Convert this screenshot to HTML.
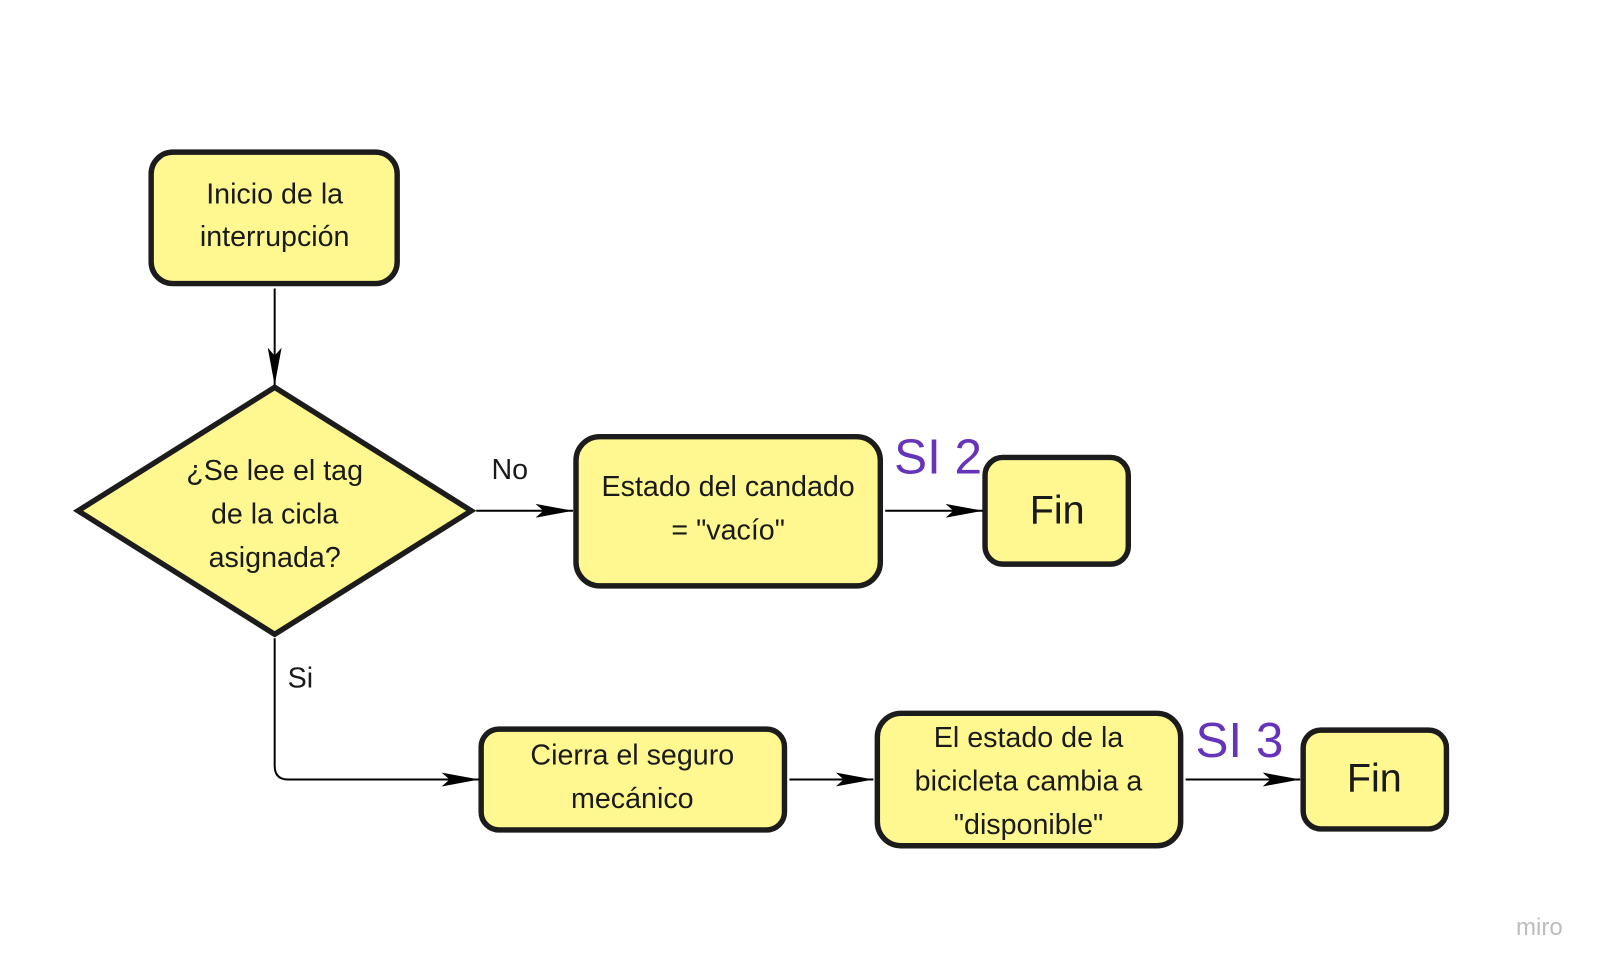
<!DOCTYPE html>
<html><head><meta charset="utf-8"><style>
html,body{margin:0;padding:0;background:#fff;}
svg{display:block}
text{font-family:"Liberation Sans",sans-serif;fill:#1a1a1a;}
</style></head><body>
<svg width="1606" height="972" viewBox="0 0 1606 972" xmlns="http://www.w3.org/2000/svg">
<defs>
<marker id="b" markerWidth="40" markerHeight="14" refX="38" refY="7" orient="auto" markerUnits="userSpaceOnUse">
<path d="M0,0 L38,7 L0,14 L8,7 Z" fill="#000"/>
</marker>
</defs>
<g transform="scale(0.988)">
<g fill="#fff78f" stroke="#1c1c1c" stroke-width="5.5">
<rect x="153" y="154" width="249" height="133" rx="22"/>
<polygon points="278,392 477,517 278,642 79,517"/>
<rect x="583" y="442" width="308" height="151" rx="24"/>
<rect x="997" y="463" width="145" height="108" rx="18"/>
<rect x="487" y="738" width="307" height="102" rx="18"/>
<rect x="888" y="722" width="307" height="134" rx="24"/>
<rect x="1319" y="739" width="145" height="100" rx="18"/>
</g>
<g stroke="#000" stroke-width="2" fill="none">
<path d="M278,292 L278,390" marker-end="url(#b)" />
<path d="M482,517 L580,517" marker-end="url(#b)"/>
<path d="M896,517 L995,517" marker-end="url(#b)"/>
<path d="M278,646 L278,775 Q278,789 292,789 L485,789" marker-end="url(#b)"/>
<path d="M799,789 L884,789" marker-end="url(#b)"/>
<path d="M1200,789 L1316,789" marker-end="url(#b)"/>
</g>
<g font-size="29" text-anchor="middle">
<text x="278" y="206">Inicio de la</text>
<text x="278" y="249">interrupción</text>
<text x="278" y="486">¿Se lee el tag</text>
<text x="278" y="530">de la cicla</text>
<text x="278" y="574">asignada?</text>
<text x="737" y="502">Estado del candado</text>
<text x="737" y="546">= "vacío"</text>
<text x="1070" y="530" font-size="40">Fin</text>
<text x="640" y="774">Cierra el seguro</text>
<text x="640" y="818">mecánico</text>
<text x="1041" y="756">El estado de la</text>
<text x="1041" y="800">bicicleta cambia a</text>
<text x="1041" y="844">"disponible"</text>
<text x="1391" y="801" font-size="40">Fin</text>
<text x="516" y="485">No</text>
<text x="304" y="696">Si</text>
</g>
<text x="905" y="479" font-size="50" style="fill:#6633bb">SI 2</text>
<text x="1210" y="766" font-size="50" style="fill:#6633bb">SI 3</text>
</g>
<text x="1516" y="935" font-size="24" style="fill:#bdbdbd">miro</text>
</svg>
</body></html>
